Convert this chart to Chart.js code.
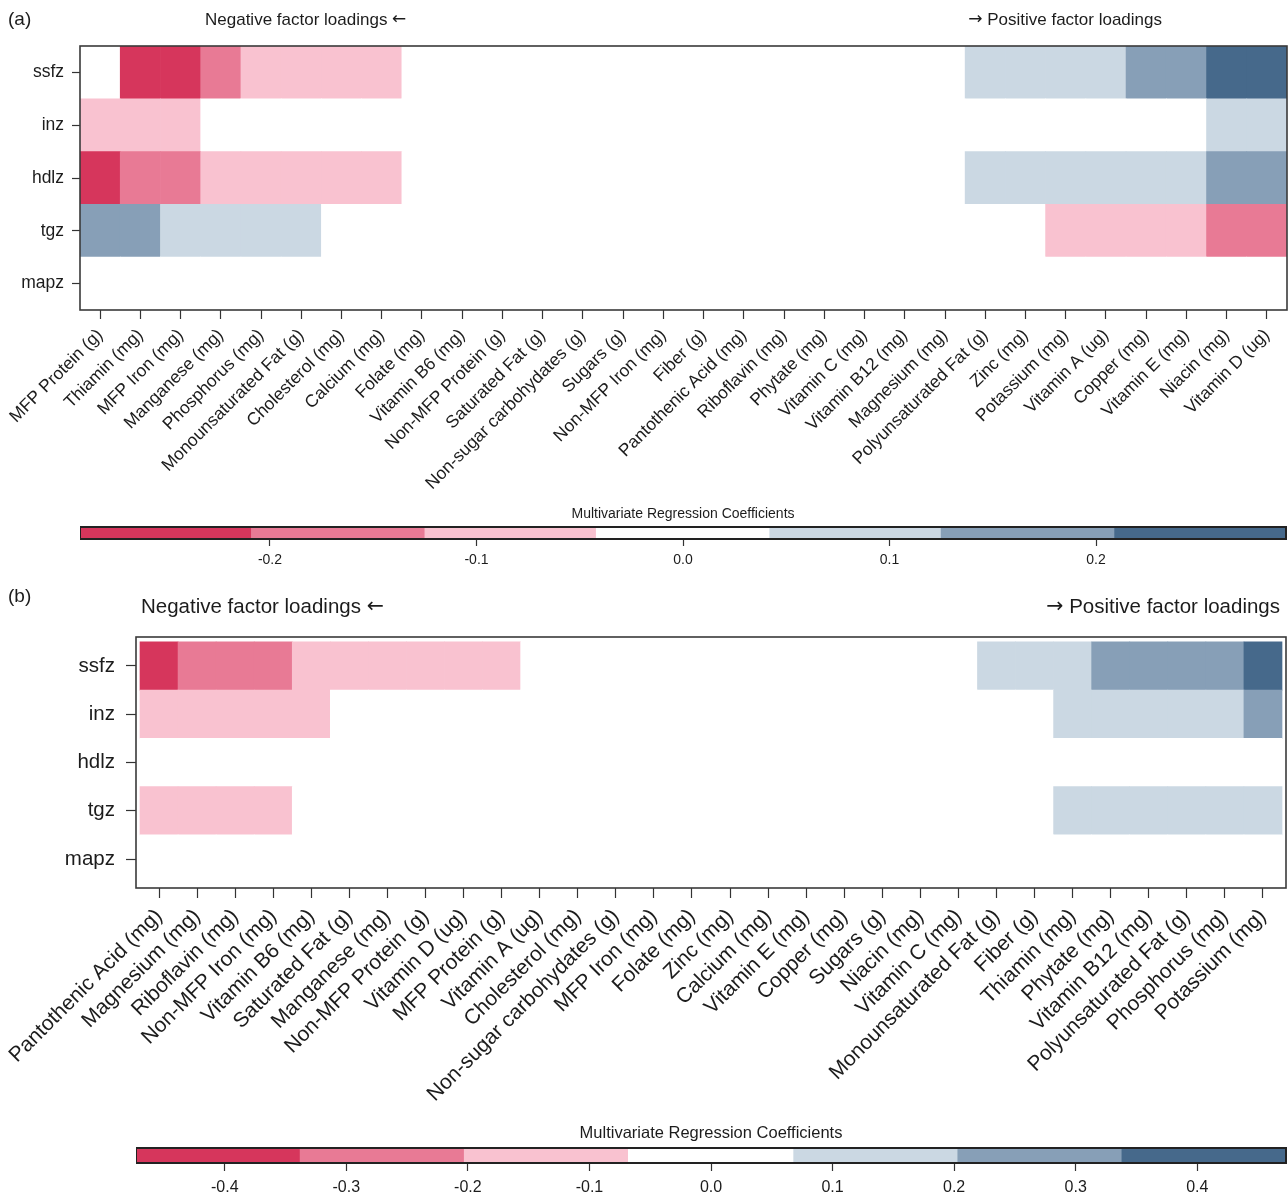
<!DOCTYPE html>
<html>
<head>
<meta charset="utf-8">
<title>Multivariate regression coefficients</title>
<script src="https://cdn.jsdelivr.net/npm/chart.js@4.4.1/dist/chart.umd.min.js"></script>
<style>
  html, body { margin: 0; padding: 0; background: #fff; }
  #page { position: relative; width: 1288px; height: 1196px; overflow: hidden; }
  #page canvas { position: absolute; }
</style>
</head>
<body>
<div id="page">
  <canvas id="heatA" width="1288" height="500" style="left:0;top:0"></canvas>
  <canvas id="keyA" width="1208" height="80" style="left:80px;top:495px"></canvas>
  <canvas id="heatB" width="1288" height="530" style="left:0;top:580px"></canvas>
  <canvas id="keyB" width="1152" height="86" style="left:136px;top:1110px"></canvas>
</div>
<script>
const FONT = "'Liberation Sans', Arial, Helvetica, sans-serif";
const ARROW_FONT = "'DejaVu Sans', sans-serif";
const INK = '#1c1c1c';
Chart.defaults.font.family = FONT;
Chart.defaults.color = INK;

// Outcomes (rows)
const rowNames = ['ssfz', 'inz', 'hdlz', 'tgz', 'mapz'];

// Panel (a): nutrients ordered by factor loading
const nutrientsA = [
    'MFP Protein (g)', 'Thiamin (mg)', 'MFP Iron (mg)', 'Manganese (mg)', 'Phosphorus (mg)',
    'Monounsaturated Fat (g)', 'Cholesterol (mg)', 'Calcium (mg)', 'Folate (mg)', 'Vitamin B6 (mg)',
    'Non-MFP Protein (g)', 'Saturated Fat (g)', 'Non-sugar carbohydates (g)', 'Sugars (g)', 'Non-MFP Iron (mg)',
    'Fiber (g)', 'Pantothenic Acid (mg)', 'Riboflavin (mg)', 'Phytate (mg)', 'Vitamin C (mg)',
    'Vitamin B12 (mg)', 'Magnesium (mg)', 'Polyunsaturated Fat (g)', 'Zinc (mg)', 'Potassium (mg)',
    'Vitamin A (ug)', 'Copper (mg)', 'Vitamin E (mg)', 'Niacin (mg)', 'Vitamin D (ug)'
];
const ssfzA = [0, -0.25, -0.25, -0.17, -0.08, -0.08, -0.08, -0.08, 0, 0,
               0, 0, 0, 0, 0, 0, 0, 0, 0, 0,
               0, 0, 0.08, 0.08, 0.08, 0.08, 0.17, 0.17, 0.25, 0.25];
const inzA  = [-0.08, -0.08, -0.08, 0, 0, 0, 0, 0, 0, 0,
               0, 0, 0, 0, 0, 0, 0, 0, 0, 0,
               0, 0, 0, 0, 0, 0, 0, 0, 0.08, 0.08];
const hdlzA = [-0.25, -0.17, -0.17, -0.08, -0.08, -0.08, -0.08, -0.08, 0, 0,
               0, 0, 0, 0, 0, 0, 0, 0, 0, 0,
               0, 0, 0.08, 0.08, 0.08, 0.08, 0.08, 0.08, 0.17, 0.17];
const tgzA  = [0.17, 0.17, 0.08, 0.08, 0.08, 0.08, 0, 0, 0, 0,
               0, 0, 0, 0, 0, 0, 0, 0, 0, 0,
               0, 0, 0, 0, -0.08, -0.08, -0.08, -0.08, -0.17, -0.17];
const mapzA = [0, 0, 0, 0, 0, 0, 0, 0, 0, 0,
               0, 0, 0, 0, 0, 0, 0, 0, 0, 0,
               0, 0, 0, 0, 0, 0, 0, 0, 0, 0];

// Panel (b)
const nutrientsB = [
    'Pantothenic Acid (mg)', 'Magnesium (mg)', 'Riboflavin (mg)', 'Non-MFP Iron (mg)', 'Vitamin B6 (mg)',
    'Saturated Fat (g)', 'Manganese (mg)', 'Non-MFP Protein (g)', 'Vitamin D (ug)', 'MFP Protein (g)',
    'Vitamin A (ug)', 'Cholesterol (mg)', 'Non-sugar carbohydates (g)', 'MFP Iron (mg)', 'Folate (mg)',
    'Zinc (mg)', 'Calcium (mg)', 'Vitamin E (mg)', 'Copper (mg)', 'Sugars (g)',
    'Niacin (mg)', 'Vitamin C (mg)', 'Monounsaturated Fat (g)', 'Fiber (g)', 'Thiamin (mg)',
    'Phytate (mg)', 'Vitamin B12 (mg)', 'Polyunsaturated Fat (g)', 'Phosphorus (mg)', 'Potassium (mg)'
];
const ssfzB = [-0.40, -0.27, -0.27, -0.27, -0.13, -0.13, -0.13, -0.13, -0.13, -0.13,
               0, 0, 0, 0, 0, 0, 0, 0, 0, 0,
               0, 0, 0.13, 0.13, 0.13, 0.27, 0.27, 0.27, 0.27, 0.40];
const inzB  = [-0.13, -0.13, -0.13, -0.13, -0.13, 0, 0, 0, 0, 0,
               0, 0, 0, 0, 0, 0, 0, 0, 0, 0,
               0, 0, 0, 0, 0.13, 0.13, 0.13, 0.13, 0.13, 0.27];
const hdlzB = [0, 0, 0, 0, 0, 0, 0, 0, 0, 0,
               0, 0, 0, 0, 0, 0, 0, 0, 0, 0,
               0, 0, 0, 0, 0, 0, 0, 0, 0, 0];
const tgzB  = [-0.13, -0.13, -0.13, -0.13, 0, 0, 0, 0, 0, 0,
               0, 0, 0, 0, 0, 0, 0, 0, 0, 0,
               0, 0, 0, 0, 0.13, 0.13, 0.13, 0.13, 0.13, 0.13];
const mapzB = [0, 0, 0, 0, 0, 0, 0, 0, 0, 0,
               0, 0, 0, 0, 0, 0, 0, 0, 0, 0,
               0, 0, 0, 0, 0, 0, 0, 0, 0, 0];

// Seven classes, red (negative) to blue (positive)
const classColors = ['#D6365C', '#E87A95', '#F9C2D0', '#FFFFFF', '#CBD8E3', '#879FB7', '#46698B'];
const breaksA = [-0.292, -0.209, -0.125, -0.042, 0.042, 0.125, 0.209, 0.292];
const breaksB = [-0.473, -0.338, -0.203, -0.068, 0.068, 0.203, 0.338, 0.473];
const keyTicksA = [-0.2, -0.1, 0, 0.1, 0.2];
const keyTicksB = [-0.4, -0.3, -0.2, -0.1, 0, 0.1, 0.2, 0.3, 0.4];

function classOf(v, breaks) {
    for (let k = 1; k < breaks.length - 1; k++) {
        if (v < breaks[k]) return k - 1;
    }
    return breaks.length - 2;
}

// Box around the plot area
const frame = {
    id: 'frame',
    afterDatasetsDraw(chart, args, opts) {
        const a = chart.chartArea;
        const ctx = chart.ctx;
        ctx.save();
        ctx.strokeStyle = opts.color;
        ctx.lineWidth = opts.width;
        ctx.strokeRect(a.left, a.top, a.right - a.left, a.bottom - a.top);
        ctx.restore();
    }
};

// Free text placed relative to the plot area; each item is a run of
// [text, family] parts so the arrows can use a font with full-size glyphs
const notes = {
    id: 'notes',
    afterDraw(chart, args, opts) {
        const a = chart.chartArea;
        const ctx = chart.ctx;
        (opts.items || []).forEach(it => {
            let x = a.left;
            if (it.anchor === 'right') x = a.right;
            if (it.anchor === 'center') x = (a.left + a.right) / 2;
            x += it.dx;
            const parts = it.parts || [[it.text, FONT]];
            ctx.save();
            ctx.fillStyle = INK;
            ctx.textAlign = 'left';
            ctx.textBaseline = 'middle';
            const widths = parts.map(p => {
                ctx.font = `${it.size}px ${p[1]}`;
                return ctx.measureText(p[0]).width;
            });
            const total = widths.reduce((s, w) => s + w, 0);
            if (it.align === 'right') x -= total;
            if (it.align === 'center') x -= total / 2;
            parts.forEach((p, i) => {
                ctx.font = `${it.size}px ${p[1]}`;
                ctx.fillText(p[0], x, a.top + it.dy);
                x += widths[i];
            });
            ctx.restore();
        });
    }
};

function heatmap(id, o) {
    const cells = [];
    o.rows.forEach((vals, r) => {
        vals.forEach((v, c) => cells.push({ x: c, y: [r - 0.5, r + 0.5], v: v }));
    });

    return new Chart(document.getElementById(id), {
        type: 'bar',
        data: {
            datasets: [{
                data: cells,
                backgroundColor: ctx => classColors[classOf(ctx.raw.v, o.breaks)],
                borderWidth: 0,
                barPercentage: 1,
                categoryPercentage: 1
            }]
        },
        plugins: [frame, notes],
        options: {
            responsive: false,
            animation: false,
            layout: { padding: o.padding },
            plugins: {
                legend: { display: false },
                tooltip: { enabled: false },
                frame: { color: '#3a3a3a', width: 1.6 },
                notes: { items: o.notes }
            },
            scales: {
                x: {
                    type: 'linear',
                    min: -0.5 - o.insetX,
                    max: o.labels.length - 0.5 + o.insetX,
                    offset: false,
                    afterBuildTicks: s => { s.ticks = o.labels.map((_, i) => ({ value: i })); },
                    afterFit: s => { s.height = o.xHeight; },
                    grid: { drawOnChartArea: false, offset: false, tickLength: o.xTick, tickColor: '#333', tickWidth: 1.2 },
                    border: { display: false },
                    ticks: {
                        autoSkip: false, minRotation: 45, maxRotation: 45,
                        padding: o.xPad, color: INK, font: { size: o.xFont },
                        callback: v => o.labels[v]
                    }
                },
                y: {
                    type: 'linear',
                    reverse: true,
                    min: -0.5 - o.insetY,
                    max: rowNames.length - 0.5 + o.insetY,
                    afterBuildTicks: s => { s.ticks = rowNames.map((_, i) => ({ value: i })); },
                    afterFit: s => { s.width = o.yWidth; },
                    grid: { drawOnChartArea: false, tickLength: o.yTick, tickColor: '#333', tickWidth: 1.2 },
                    border: { display: false },
                    ticks: { padding: o.yPad, color: INK, font: { size: o.yFont }, callback: v => rowNames[v] }
                }
            }
        }
    });
}

function colorKey(id, o) {
    const bins = o.breaks.slice(0, -1).map((lo, k) => ({ x: [lo, o.breaks[k + 1]], y: 'key' }));

    return new Chart(document.getElementById(id), {
        type: 'bar',
        data: {
            labels: ['key'],
            datasets: [{
                data: bins,
                backgroundColor: classColors,
                borderWidth: 0,
                barPercentage: 1,
                categoryPercentage: 1
            }]
        },
        plugins: [frame, notes],
        options: {
            indexAxis: 'y',
            responsive: false,
            animation: false,
            layout: { padding: o.padding },
            plugins: {
                legend: { display: false },
                tooltip: { enabled: false },
                frame: { color: '#222', width: 2 },
                notes: { items: [{ text: 'Multivariate Regression Coefficients', anchor: 'center', align: 'center', dx: 0, dy: o.titleDy, size: o.titleFont }] }
            },
            scales: {
                x: {
                    type: 'linear',
                    min: o.breaks[0],
                    max: o.breaks[o.breaks.length - 1],
                    afterBuildTicks: s => { s.ticks = o.ticks.map(v => ({ value: v })); },
                    afterFit: s => { s.height = o.xHeight; },
                    grid: { drawOnChartArea: false, tickLength: o.tickLen, tickColor: '#333', tickWidth: 1.2 },
                    border: { display: false },
                    ticks: { autoSkip: false, maxRotation: 0, padding: o.tickPad, color: INK, font: { size: o.tickFont }, callback: v => v.toFixed(1) }
                },
                y: { type: 'category', display: false }
            }
        }
    });
}

heatmap('heatA', {
    labels: nutrientsA,
    rows: [ssfzA, inzA, hdlzA, tgzA, mapzA],
    breaks: breaksA,
    insetX: 0, insetY: 0,
    padding: { top: 46, right: 1, left: 0, bottom: 0 },
    xHeight: 190, yWidth: 80,
    xTick: 9, xPad: 6, xFont: 17.5,
    yTick: 8, yPad: 8, yFont: 17.5,
    notes: [
        { text: '(a)', anchor: 'left', dx: -72, dy: -26, size: 19 },
        { parts: [['Negative factor loadings ', FONT], ['\u2190', ARROW_FONT]], anchor: 'left', dx: 125, dy: -26, size: 17 },
        { parts: [['\u2192', ARROW_FONT], [' Positive factor loadings', FONT]], anchor: 'right', align: 'right', dx: -125, dy: -26, size: 17 }
    ]
});

colorKey('keyA', {
    breaks: breaksA, ticks: keyTicksA,
    padding: { top: 32, right: 2, left: 0, bottom: 0 },
    xHeight: 36, tickLen: 7, tickPad: 6, tickFont: 14,
    titleDy: -13, titleFont: 14
});

heatmap('heatB', {
    labels: nutrientsB,
    rows: [ssfzB, inzB, hdlzB, tgzB, mapzB],
    breaks: breaksB,
    insetX: 0.105, insetY: 0.1,
    padding: { top: 57, right: 2, left: 0, bottom: 0 },
    xHeight: 222, yWidth: 136,
    xTick: 10, xPad: 6, xFont: 21,
    yTick: 10, yPad: 11, yFont: 20.5,
    notes: [
        { text: '(b)', anchor: 'left', dx: -128, dy: -40, size: 19 },
        { parts: [['Negative factor loadings ', FONT], ['\u2190', ARROW_FONT]], anchor: 'left', dx: 5, dy: -30, size: 20.5 },
        { parts: [['\u2192', ARROW_FONT], [' Positive factor loadings', FONT]], anchor: 'right', align: 'right', dx: -6, dy: -30, size: 20.5 }
    ]
});

colorKey('keyB', {
    breaks: breaksB, ticks: keyTicksB,
    padding: { top: 38, right: 2, left: 0, bottom: 0 },
    xHeight: 33, tickLen: 8, tickPad: 7, tickFont: 16,
    titleDy: -15, titleFont: 16.5
});
</script>
</body>
</html>
